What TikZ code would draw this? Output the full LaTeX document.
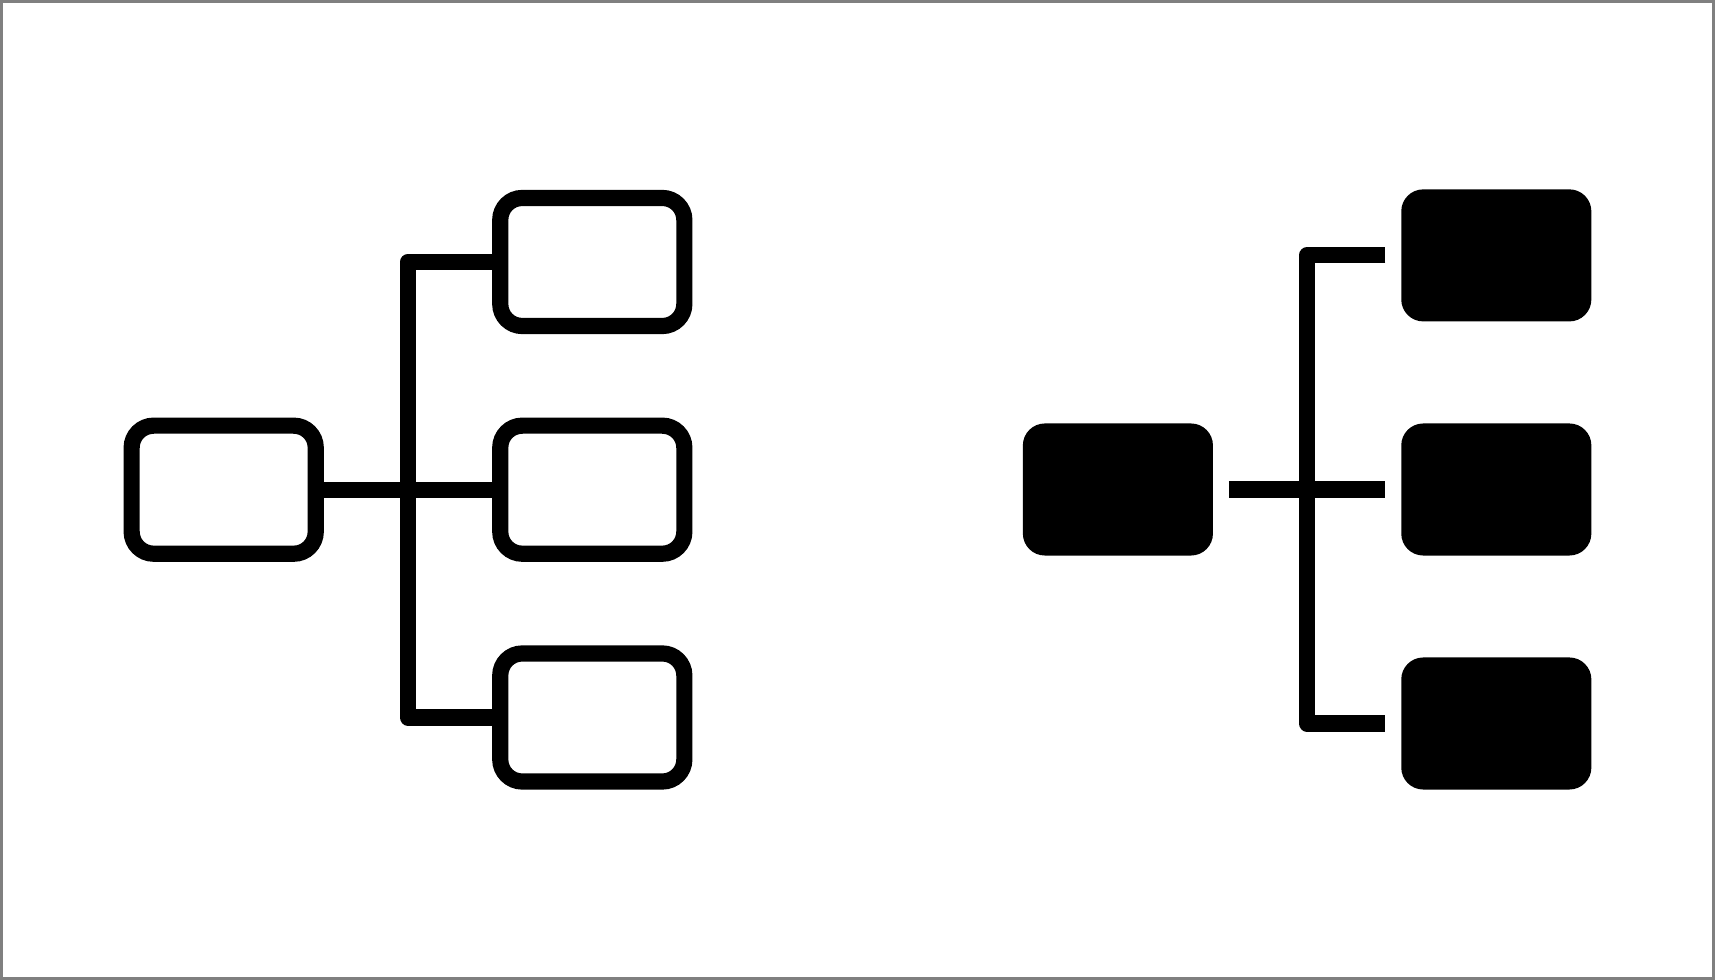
\documentclass[tikz,border=0pt]{standalone}
\usepackage{amsmath}
\usepackage{tikz}
\usetikzlibrary{calc}

\tikzset{
  openbox/.style={draw, line width=4.6pt, rounded corners=0.22cm, minimum width=1.84cm, minimum height=1.28cm, inner sep=0pt, outer sep=0pt},
  fullbox/.style={fill, rounded corners=0.22cm, minimum width=1.9cm, minimum height=1.32cm, inner sep=0pt, outer sep=0pt},
  link/.style={line width=4.6pt},
  bus/.style={line width=4.6pt, line join=round}
}

\begin{document}
\begin{tikzpicture}[x=0.01cm, y=-0.01cm]
\useasboundingbox (0,0) rectangle (1715,980);
\draw[gray, line width=1pt] (1,1) rectangle (1714,979);

\node[openbox] (oroot) at (223.7,489.7) {};
\node[openbox] (otop) at (592.3,262) {};
\node[openbox] (omid) at (592.3,489.7) {};
\node[openbox] (obot) at (592.3,717.5) {};
\coordinate (obus) at ($(oroot.east)!0.5!(omid.west)$);
\draw[link] (oroot.east) -- (omid.west);
\draw[bus] (otop.west) -| (obus) |- (obot.west);

\node[fullbox] (froot) at (1117.9,489.5) {};
\node[fullbox] (ftop) at (1496.3,255.4) {};
\node[fullbox] (fmid) at (1496.3,489.5) {};
\node[fullbox] (fbot) at (1496.3,723.5) {};
\coordinate (fbus) at ($(froot.east)!0.5!(fmid.west)$);
\draw[link, shorten <=0.16cm, shorten >=0.16cm] (froot.east) -- (fmid.west);
\draw[bus, shorten <=0.16cm, shorten >=0.16cm] (ftop.west) -| (fbus) |- (fbot.west);
\end{tikzpicture}
\end{document}
